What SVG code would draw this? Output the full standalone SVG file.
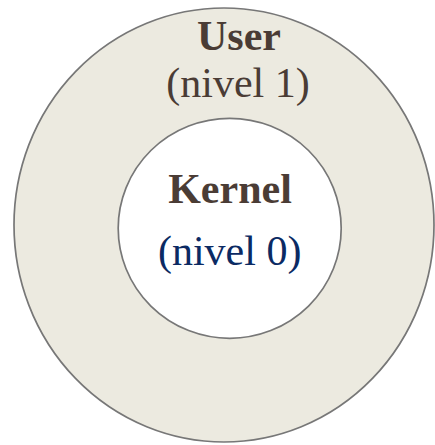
<svg xmlns="http://www.w3.org/2000/svg" width="435" height="445" viewBox="0 0 435 445">
  <style>
    .ring { stroke: #777777; stroke-width: 1.7; }
    .title { font-family: "Liberation Serif", "Times New Roman", serif; font-size: 42px; font-weight: bold; fill: #4a3c35; text-anchor: middle; }
    .sub { font-family: "Liberation Serif", "Times New Roman", serif; font-size: 42px; text-anchor: middle; }
  </style>
  <rect width="435" height="445" fill="#ffffff"/>
  <!-- outer ring: user mode -->
  <g id="user">
    <ellipse class="ring" cx="224" cy="225" rx="210" ry="217" fill="#ECEAE0"/>
    <text class="title" x="239" y="50">User</text>
    <text class="sub" x="238" y="96.5" fill="#4a3c35">(nivel 1)</text>
  </g>
  <!-- inner circle: kernel mode -->
  <g id="kernel">
    <ellipse class="ring" cx="229.7" cy="228.3" rx="111.5" ry="110" fill="#ffffff"/>
    <text class="title" x="230" y="202.5">Kernel</text>
    <text class="sub" x="229.7" y="265" fill="#0b2a63">(nivel 0)</text>
  </g>
</svg>
